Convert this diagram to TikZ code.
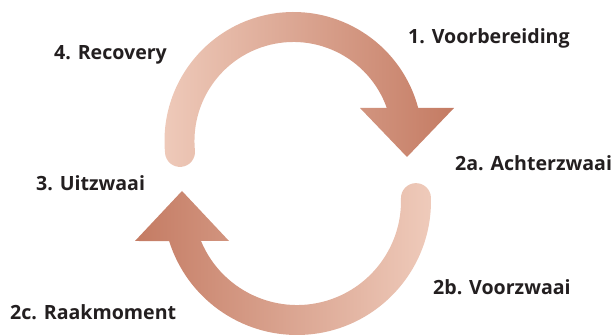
\documentclass[tikz,border=0pt]{standalone}
\usepackage{fontspec}
\setmainfont{Open Sans}[BoldFont={Open Sans Bold}]
\usepackage{tikz}
\usetikzlibrary{positioning}
\usepackage{xcolor}

\definecolor{huelight}{HTML}{EFCBBB}
\definecolor{huedark}{HTML}{C47B63}
\definecolor{labeltext}{HTML}{231F20}

\tikzset{
  phase/.style={anchor=west, inner sep=0pt, text=labeltext,
    font=\fontsize{19.6}{23}\selectfont\bfseries},
}

\begin{document}
\begin{tikzpicture}[x=1pt, y=1pt]
\useasboundingbox (0,0) rectangle (614,336);

% bovenste pijl: cirkelboog (middelpunt (293.5,195), r=114) met punt naar beneden
\shade[left color=huelight, right color=huedark]
  (293.5,195) ++(185.5:129)
  arc[start angle=185.5, end angle=14.82, radius=129]
  -- (454,228) -- (407,179) -- (360,228) -- (386.8,228)
  arc[start angle=19.47, end angle=185.5, radius=99]
  arc[start angle=5.5, end angle=-174.5, radius=15] -- cycle;

% onderste pijl: cirkelboog (middelpunt (297,135), r=119) met punt naar boven
\shade[left color=huedark, right color=huelight]
  (297,135) ++(1.4:134)
  arc[start angle=1.4, end angle=-162.6, radius=134]
  -- (135,95) -- (182,145) -- (229,95) -- (201,95)
  arc[start angle=-157.4, end angle=1.4, radius=104]
  arc[start angle=181.4, end angle=1.4, radius=15] -- cycle;

% fasen
\node[phase] (prep) at (408,298) {1. Voorbereiding};
\node[phase] (back) at (455,173) {2a. Achterzwaai};
\node[phase] (fwd) at (433,49) {2b. Voorzwaai};
\node[phase] (impact) at (10,24) {2c. Raakmoment};
\node[phase] (follow) at (36,153) {3. Uitzwaai};
\node[phase] (recov) at (54,281) {4. Recovery};
\end{tikzpicture}
\end{document}
